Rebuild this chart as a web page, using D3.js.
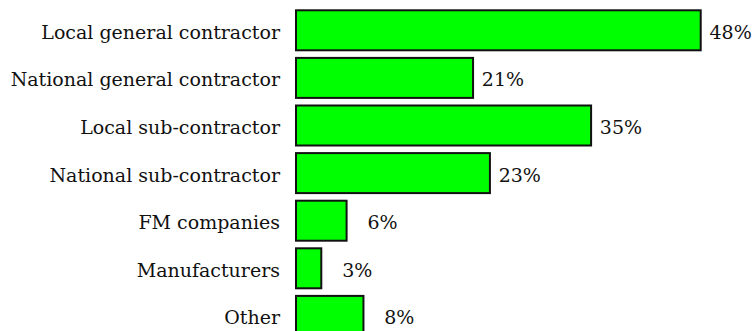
<!DOCTYPE html>
<html>
<head>
<meta charset="utf-8">
<script src="https://cdn.jsdelivr.net/npm/d3@7"></script>
<style>
  html, body { margin: 0; padding: 0; background: #fff; }
  svg { display: block; }
  text { font-family: "DejaVu Serif", serif; fill: #111; }
</style>
</head>
<body>
<svg id="chart" width="753" height="331"></svg>
<script>
// Share of respondents by type of contractor
const categories = [
  "Local general contractor",
  "National general contractor",
  "Local sub-contractor",
  "National sub-contractor",
  "FM companies",
  "Manufacturers",
  "Other"
];
const values = [48, 21, 35, 23, 6, 3, 8];
const valueLabels = ["48%", "21%", "35%", "23%", "6%", "3%", "8%"];

const width = 753, height = 331;
const svg = d3.select("#chart");

// Linear scale: 0% at the left edge of the bars
const x = d3.scaleLinear().domain([0, 48]).range([296, 700.7]);

// Bands of 47.6px, each bar 40px tall
const step = 47.6;
const y = d3.scaleBand()
  .domain(categories)
  .range([6.5, 6.5 + step * categories.length])
  .paddingInner(7.6 / step)
  .paddingOuter(3.8 / step);

const rows = svg.append("g")
  .selectAll("g")
  .data(categories.map((c, i) => ({ c, v: values[i], label: valueLabels[i] })))
  .join("g");

rows.append("rect")
  .attr("x", x(0))
  .attr("y", d => y(d.c))
  .attr("width", d => x(d.v) - x(0))
  .attr("height", y.bandwidth())
  .attr("fill", "#00ff00")
  .attr("stroke", "#111")
  .attr("stroke-width", 2);

// Category names, right-aligned next to the bars
rows.append("text")
  .attr("x", 280)
  .attr("y", d => y(d.c) + y.bandwidth() / 2 + 8.5)
  .attr("text-anchor", "end")
  .attr("font-size", 19)
  .text(d => d.c);

// Value labels, right-aligned in a fixed slot after each bar
rows.append("text")
  .attr("x", d => x(d.v) + 51)
  .attr("y", d => y(d.c) + y.bandwidth() / 2 + 8.5)
  .attr("text-anchor", "end")
  .attr("font-size", 19)
  .text(d => d.label);
</script>
</body>
</html>
